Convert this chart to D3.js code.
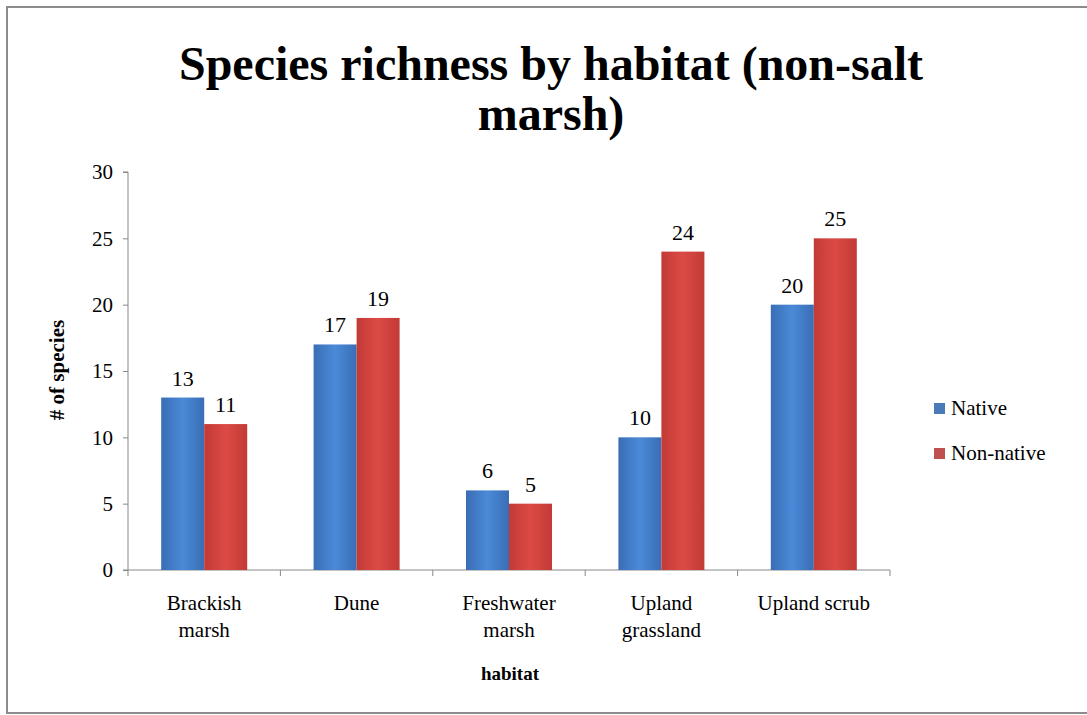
<!DOCTYPE html>
<html><head><meta charset="utf-8">
<script src="https://cdn.jsdelivr.net/npm/d3@7"></script>
<style>body{margin:0;background:#fff;}svg{display:block;}</style>
</head><body><svg id="c" width="1087" height="715" font-family="Liberation Serif, Times New Roman, serif"></svg>
<script>
const categories = [["Brackish","marsh"],["Dune"],["Freshwater","marsh"],["Upland","grassland"],["Upland scrub"]];
const catKeys = ["Brackish marsh","Dune","Freshwater marsh","Upland grassland","Upland scrub"];
const seriesNames = ["Native","Non-native"];
const nativeVals = [13,17,6,10,20];
const nonNativeVals = [11,19,5,24,25];
const yTicks = [0,5,10,15,20,25,30];

(function(){
const FONT = "Liberation Serif, Times New Roman, serif";
const svg = d3.select("#c");
const defs = svg.append("defs");
function grad(id, edge, mid){
  const g = defs.append("linearGradient").attr("id",id).attr("x1","0").attr("x2","1").attr("y1","0").attr("y2","0");
  g.append("stop").attr("offset","0%").attr("stop-color",edge);
  g.append("stop").attr("offset","50%").attr("stop-color",mid);
  g.append("stop").attr("offset","100%").attr("stop-color",edge);
}
grad("gBlue","#3a6db5","#4a8ad8");
grad("gRed","#c23a36","#dc4a45");
const fills = ["url(#gBlue)","url(#gRed)"];
const legendFills = ["#4a7ab8","#c0504d"];

svg.append("rect").attr("x",7).attr("y",7).attr("width",1090).attr("height",706)
  .attr("fill","none").attr("stroke","#8c8c8c").attr("stroke-width",2);

const pL=128, pR=890, pT=172, pB=570;
const x = d3.scaleBand().domain(catKeys).range([pL,pR]);
const xs = d3.scaleBand().domain(seriesNames).range([0,86]);
const y = d3.scaleLinear().domain([0,30]).range([pB,pT]);

const title = svg.append("text").attr("text-anchor","middle").attr("font-weight","bold").attr("font-size",48).attr("font-family",FONT).attr("fill","#000");
title.append("tspan").attr("x",551).attr("y",80).text("Species richness by habitat (non-salt");
title.append("tspan").attr("x",551).attr("y",130).text("marsh)");

const yAxis = svg.append("g").attr("transform",`translate(${pL},0)`)
  .call(d3.axisLeft(y).tickValues(yTicks).tickSize(5).tickPadding(10));
yAxis.select(".domain").attr("stroke","#888").attr("d",`M-5,${pT}H0V${pB}`);
yAxis.selectAll(".tick line").attr("stroke","#888");
yAxis.selectAll(".tick text").attr("font-size",21).attr("fill","#000").attr("font-family",FONT);

const xAxisG = svg.append("g");
xAxisG.append("line").attr("x1",pL-5).attr("x2",pR).attr("y1",pB).attr("y2",pB).attr("stroke","#888");
const bounds = catKeys.map(c=>x(c)).concat([x(catKeys[catKeys.length-1])+x.bandwidth()]);
xAxisG.selectAll("line.t").data(bounds).join("line").attr("class","t")
  .attr("x1",d=>d).attr("x2",d=>d).attr("y1",pB).attr("y2",pB+6).attr("stroke","#888");
categories.forEach((lines,i)=>{
  const t = svg.append("text").attr("text-anchor","middle").attr("font-size",21).attr("font-family",FONT).attr("fill","#000");
  lines.forEach((l,j)=>t.append("tspan").attr("x",x(catKeys[i])+x.bandwidth()/2).attr("y",610+j*27).text(l));
});

const series = [nativeVals, nonNativeVals];
series.forEach((vals,si)=>{
  const g = svg.append("g");
  g.selectAll("rect").data(vals).join("rect")
    .attr("x",(d,i)=>x(catKeys[i])+(x.bandwidth()-86)/2+xs(seriesNames[si]))
    .attr("y",d=>y(d)).attr("width",xs.bandwidth()).attr("height",d=>pB-y(d))
    .attr("fill",fills[si]);
  g.selectAll("text").data(vals).join("text")
    .attr("x",(d,i)=>x(catKeys[i])+(x.bandwidth()-86)/2+xs(seriesNames[si])+xs.bandwidth()/2)
    .attr("y",d=>y(d)-12).attr("text-anchor","middle").attr("font-size",22).attr("font-family",FONT).attr("fill","#000").text(d=>d);
});

svg.append("text").attr("transform","translate(64,370) rotate(-90)").attr("text-anchor","middle")
  .attr("font-weight","bold").attr("font-size",21).attr("font-family",FONT).text("# of species");
svg.append("text").attr("x",510).attr("y",680).attr("text-anchor","middle")
  .attr("font-weight","bold").attr("font-size",19).attr("font-family",FONT).text("habitat");

seriesNames.forEach((n,i)=>{
  const yy = 408+i*45;
  svg.append("rect").attr("x",934).attr("y",yy-5).attr("width",11).attr("height",11).attr("fill",legendFills[i]);
  svg.append("text").attr("x",951).attr("y",yy+7).attr("font-size",21).attr("font-family",FONT).text(n);
});
})();
</script></body></html>
